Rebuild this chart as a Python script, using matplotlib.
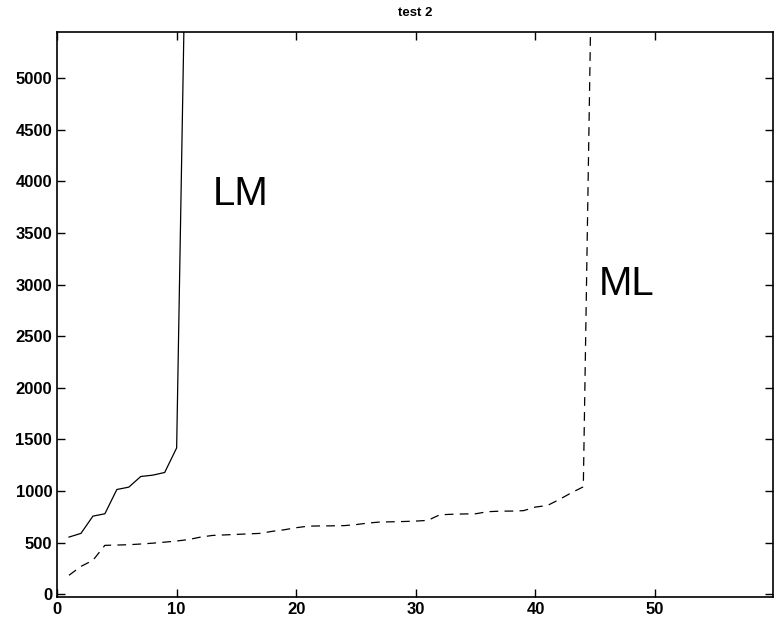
import matplotlib.pyplot as plt

# values
lm_x = list(range(1, 12))
lm_y = [554, 590, 757, 780, 1015, 1038, 1141, 1154, 1180, 1418, 8100]

ml_x = list(range(1, 46))
ml_y = [184, 270, 329, 474, 477, 480, 487, 495, 505, 516,
        530, 554, 570, 575, 580, 585, 590, 610, 625, 645,
        660, 662, 663, 665, 675, 690, 700, 702, 705, 709,
        716, 770, 775, 778, 780, 800, 805, 806, 810, 845,
        860, 919, 983, 1041, 8400]

x_ticks = [0, 10, 20, 30, 40, 50]
y_ticks = [0, 500, 1000, 1500, 2000, 2500, 3000, 3500, 4000, 4500, 5000]

plt.rcParams['font.family'] = ['Liberation Sans', 'DejaVu Sans']

fig = plt.figure(figsize=(7.76, 6.2), dpi=100)
ax = fig.add_axes([0.0735, 0.037, 0.9225, 0.911])

ax.plot(lm_x, lm_y, color='black', linewidth=0.9)
ax.plot(ml_x, ml_y, color='black', linewidth=0.9, linestyle=(0, (7, 5)))

ax.text(13, 3770, 'LM', fontsize=29)
ax.text(45.3, 2900, 'ML', fontsize=29)

ax.set_xlim(0, 59.85)
ax.set_ylim(-27, 5445)
ax.set_xticks(x_ticks)
ax.set_yticks(y_ticks)
ax.tick_params(direction='in', top=True, right=True, length=6, width=1,
               labelsize=12)
for lab in ax.get_xticklabels() + ax.get_yticklabels():
    lab.set_fontweight('bold')
for s in ax.spines.values():
    s.set_linewidth(1.2)

ax.set_title('test 2', fontsize=9.5, fontweight='bold', pad=12)

fig.savefig('out.png', dpi=100)
